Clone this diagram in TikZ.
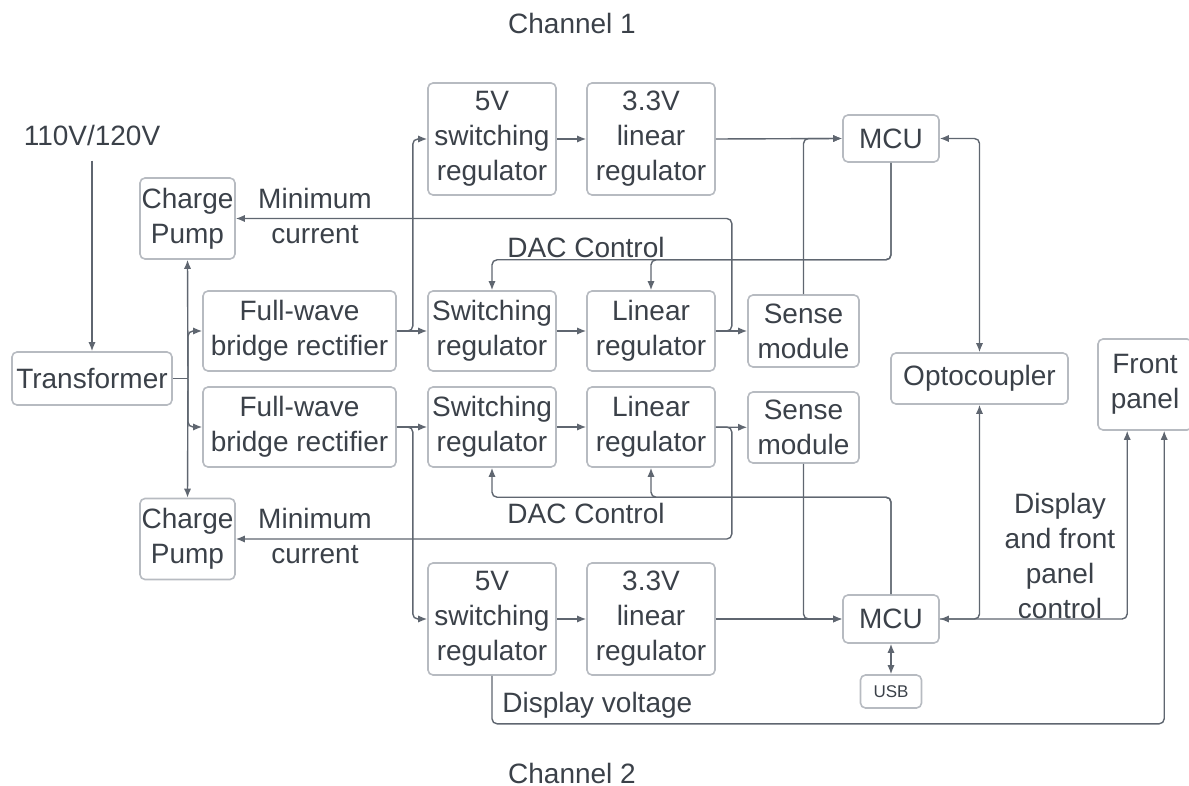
\documentclass[tikz,border=0pt]{standalone}
\usepackage{fontspec}
\setmainfont{Liberation Sans}
\usetikzlibrary{arrows.meta}
\definecolor{linegray}{HTML}{5F6670}
\definecolor{boxgray}{HTML}{B7BBC1}
\definecolor{textgray}{HTML}{3B4149}

\begin{document}
\begin{tikzpicture}[x=0.5pt, y=-0.5pt,
  every node/.style={font=\fontsize{14pt}{17.5pt}\selectfont, text=textgray, align=center, inner sep=0pt},
  blk/.style={draw=boxgray, line width=0.8pt, rounded corners=2.5pt},
  ln/.style={draw=linegray, line width=0.7pt, rounded corners=2.5pt},
  arr/.style={ln, -{Latex[length=4.5pt,width=3.6pt]}},
  biarr/.style={ln, {Latex[length=4.5pt,width=3.6pt]}-{Latex[length=4.5pt,width=3.6pt]}}]
\useasboundingbox (0,0) rectangle (1189,786);

\node (ch1) at (572,23) {Channel 1};
\node (ch2) at (572,773) {Channel 2};
\node (vin) at (92,135) {110V/120V};

\node[blk, minimum width=80pt, minimum height=26.5pt] (trans) at (92,378.5) {Transformer};
\node[blk, minimum width=47.5pt, minimum height=40.5pt] (cp1) at (187.5,218.5) {Charge\\Pump};
\node[blk, minimum width=47.5pt, minimum height=40.5pt] (cp2) at (187.5,539) {Charge\\Pump};
\node[blk, minimum width=96.5pt, minimum height=40pt] (rect1) at (299.5,331) {Full-wave\\bridge rectifier};
\node[blk, minimum width=96.5pt, minimum height=40pt] (rect2) at (299.5,427) {Full-wave\\bridge rectifier};

\node[blk, minimum width=64pt, minimum height=56pt] (sw5a) at (492,139) {5V\\switching\\regulator};
\node[blk, minimum width=64pt, minimum height=56pt] (lin33a) at (651,139) {3.3V\\linear\\regulator};
\node[blk, minimum width=64pt, minimum height=40pt] (swa) at (492,331) {Switching\\regulator};
\node[blk, minimum width=64pt, minimum height=40pt] (lina) at (651,331) {Linear\\regulator};
\node[blk, minimum width=55.5pt, minimum height=36pt] (sensea) at (803.5,331) {Sense\\module};

\node[blk, minimum width=64pt, minimum height=40pt] (swb) at (492,427) {Switching\\regulator};
\node[blk, minimum width=64pt, minimum height=40pt] (linb) at (651,427) {Linear\\regulator};
\node[blk, minimum width=55.5pt, minimum height=35.5pt] (senseb) at (803.5,427.5) {Sense\\module};
\node[blk, minimum width=64pt, minimum height=56pt] (sw5b) at (492,619) {5V\\switching\\regulator};
\node[blk, minimum width=64pt, minimum height=56pt] (lin33b) at (651,619) {3.3V\\linear\\regulator};

\node[blk, minimum width=48pt, minimum height=23.5pt] (mcua) at (891,138.5) {MCU};
\node[blk, minimum width=48pt, minimum height=24pt] (mcub) at (891,619) {MCU};
\node[blk, minimum width=88.5pt, minimum height=25.5pt] (opto) at (979.5,378.5) {Optocoupler};
\node[blk, minimum width=47pt, minimum height=45.5pt] (front) at (1145,384.5) {Front\\panel};
\node[blk, minimum width=30.5pt, minimum height=16.5pt, font=\fontsize{8.5pt}{10pt}\selectfont] (usb) at (891,691.5) {USB};

\node (min1) at (315,215.5) {Minimum\\current};
\node (min2) at (315,536) {Minimum\\current};
\node (dac1) at (586,247) {DAC Control};
\node (dac2) at (586,513) {DAC Control};
\node (dfp) at (1060,556) {Display\\and front\\panel\\control};
\node[anchor=west] (dv) at (502,705) {Display voltage};

\coordinate (jt) at (188,378.5);
\draw[arr, shorten <=7.5pt] (vin) -- (trans);
\draw[ln] (trans.east) -- (jt);
\draw[arr] (jt) -- (cp1.south);
\draw[arr] (jt) -- (cp2.north);
\draw[arr] (jt) |- (rect1.west);
\draw[arr] (jt) |- (rect2.west);

\draw[arr] (rect1.east) -- (swa.west);
\draw[arr] (rect1.east) -- ++(16,0) |- (sw5a.west);
\draw[arr] (rect2.east) -- (swb.west);
\draw[arr] (rect2.east) -- ++(16,0) |- (sw5b.west);

\draw[arr] (sw5a) -- (lin33a);
\draw[arr] (lin33a.east) -- (mcua.west);
\draw[arr] (sensea.north) |- (mcua.west);
\draw[arr] (swa) -- (lina);
\draw[arr] (lina) -- (sensea);
\draw[arr] (lina.east) -- ++(16,0) |- (cp1.east);
\draw[arr] (mcua.south) -- ++(0,97) -| (swa.north);
\draw[arr] (mcua.south) -- ++(0,97) -| (lina.north);

\draw[arr] (swb) -- (linb);
\draw[arr] (linb) -- (senseb);
\draw[arr] (linb.east) -- ++(16,0) |- (cp2.east);
\draw[arr] (mcub.north) -- ++(0,-97) -| (swb.south);
\draw[arr] (mcub.north) -- ++(0,-97) -| (linb.south);
\draw[arr] (sw5b) -- (lin33b);
\draw[arr] (lin33b.east) -- (mcub.west);
\draw[arr] (senseb.south) |- (mcub.west);

\draw[biarr] (mcua.east) -| (opto.north);
\draw[biarr] (mcub.east) -| (opto.south);
\draw[arr] (mcub.east) -- ++(40,0) -| ([xshift=15pt]front.south west);
\draw[biarr] (mcub.south) -- (usb.north);
\draw[arr] (sw5b.south) -- ++(0,48) -| ([xshift=33.5pt]front.south west);
\end{tikzpicture}
\end{document}
